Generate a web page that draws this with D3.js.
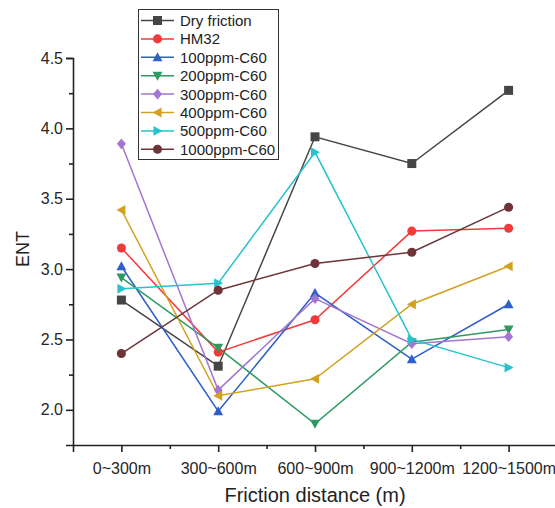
<!DOCTYPE html>
<html>
<head>
<meta charset="utf-8">
<script src="https://cdn.jsdelivr.net/npm/d3@7"></script>
<style>
  body { margin: 0; background: #fff; }
  text { font-family: "Liberation Sans", Arial, sans-serif; }
</style>
</head>
<body>
<script>
// categories and series
const categories = ["0~300m", "300~600m", "600~900m", "900~1200m", "1200~1500m"];
const seriesNames = ["Dry friction", "HM32", "100ppm-C60", "200ppm-C60", "300ppm-C60", "400ppm-C60", "500ppm-C60", "1000ppm-C60"];
const dryFriction = [2.78, 2.31, 3.94, 3.75, 4.27];
const hm32        = [3.15, 2.41, 2.64, 3.27, 3.29];
const ppm100      = [3.02, 1.99, 2.83, 2.36, 2.75];
const ppm200      = [2.94, 2.44, 1.90, 2.48, 2.57];
const ppm300      = [3.89, 2.14, 2.79, 2.47, 2.52];
const ppm400      = [3.42, 2.10, 2.22, 2.75, 3.02];
const ppm500      = [2.86, 2.90, 3.83, 2.50, 2.30];
const ppm1000     = [2.40, 2.85, 3.04, 3.12, 3.44];
const yTicks = [2.0, 2.5, 3.0, 3.5, 4.0, 4.5];

const seriesValues = [dryFriction, hm32, ppm100, ppm200, ppm300, ppm400, ppm500, ppm1000];
const colors = ["#454545", "#f23a3a", "#2f5fc9", "#2e9a62", "#a276d2", "#d1a21f", "#27c3cc", "#6e3438"];
const shapes = ["square", "circle", "up", "down", "diamond", "left", "right", "circle"];

const W = 555, H = 508;
const svg = d3.select("body").append("svg")
    .attr("width", W)
    .attr("height", H);

// scales
const x = d3.scaleLinear().domain([-0.5, 4.5]).range([73, 557]);
const y = d3.scaleLinear().domain([1.75, 4.5]).range([445, 58]);

// marker path generator
function marker(shape, s) {
    const h = s / 2;
    switch (shape) {
        case "square": return `M${-h},${-h}H${h}V${h}H${-h}Z`;
        case "circle": return d3.symbol(d3.symbolCircle, s * s * 0.8)();
        case "up": return `M0,${-h * 1.1}L${h * 1.1},${h * 0.9}L${-h * 1.1},${h * 0.9}Z`;
        case "down": return `M0,${h * 1.1}L${h * 1.1},${-h * 0.9}L${-h * 1.1},${-h * 0.9}Z`;
        case "left": return `M${-h * 1.1},0L${h * 0.9},${-h * 1.1}L${h * 0.9},${h * 1.1}Z`;
        case "right": return `M${h * 1.1},0L${-h * 0.9},${-h * 1.1}L${-h * 0.9},${h * 1.1}Z`;
        case "diamond": return `M0,${-h * 1.2}L${h},0L0,${h * 1.2}L${-h},0Z`;
    }
}

// axes
const yAxis = svg.append("g")
    .attr("transform", "translate(73,0)")
    .call(d3.axisLeft(y).tickValues(yTicks).tickFormat(d3.format(".1f")).tickSize(7).tickPadding(3));
const yMinor = svg.append("g")
    .attr("transform", "translate(73,0)")
    .call(d3.axisLeft(y).tickValues([2.25, 2.75, 3.25, 3.75, 4.25]).tickFormat("").tickSize(4));
yMinor.select(".domain").remove();

const xAxis = svg.append("g")
    .attr("transform", "translate(0,445)")
    .call(d3.axisBottom(x).tickValues(d3.range(categories.length))
        .tickFormat(i => categories[i]).tickSize(7).tickPadding(11));
const xMinor = svg.append("g")
    .attr("transform", "translate(0,445)")
    .call(d3.axisBottom(x).tickValues([0.5, 1.5, 2.5, 3.5]).tickFormat("").tickSize(4));
xMinor.select(".domain").remove();

svg.selectAll(".domain").attr("stroke", "#222").attr("stroke-width", 1.6);
svg.selectAll(".tick line").attr("stroke", "#222").attr("stroke-width", 1.6);
svg.selectAll(".tick text").attr("font-size", 16).attr("fill", "#262626")
    .attr("font-family", "'Liberation Sans', Arial, sans-serif");

// axis titles
svg.append("text")
    .attr("transform", "translate(29,249) rotate(-90)")
    .attr("text-anchor", "middle")
    .attr("font-size", 18)
    .attr("fill", "#222")
    .text("ENT");
svg.append("text")
    .attr("x", 315).attr("y", 502)
    .attr("text-anchor", "middle")
    .attr("font-size", 20)
    .attr("fill", "#222")
    .text("Friction distance (m)");

// lines and markers
const line = d3.line().x((d, i) => x(i)).y(d => y(d));
seriesValues.forEach(function (vals, k) {
    svg.append("path")
        .datum(vals)
        .attr("d", line)
        .attr("fill", "none")
        .attr("stroke", colors[k])
        .attr("stroke-width", 1.5);
});
seriesValues.forEach(function (vals, k) {
    svg.selectAll(".m" + k)
        .data(vals)
        .enter().append("path")
        .attr("transform", (d, i) => "translate(" + x(i) + "," + y(d) + ")")
        .attr("d", marker(shapes[k], 9))
        .attr("fill", colors[k]);
});

// legend
const legend = svg.append("g");
legend.append("rect")
    .attr("x", 138.5).attr("y", 9.5)
    .attr("width", 140).attr("height", 150)
    .attr("fill", "#fff")
    .attr("stroke", "#333")
    .attr("stroke-width", 1);
seriesNames.forEach(function (name, k) {
    const ly = 20.5 + k * 18.4;
    legend.append("line")
        .attr("x1", 141).attr("x2", 174)
        .attr("y1", ly).attr("y2", ly)
        .attr("stroke", colors[k]).attr("stroke-width", 1.5);
    legend.append("path")
        .attr("transform", "translate(157.5," + ly + ")")
        .attr("d", marker(shapes[k], 9))
        .attr("fill", colors[k]);
    legend.append("text")
        .attr("x", 180).attr("y", ly + 5.5)
        .attr("font-size", 15)
        .attr("fill", "#222")
        .text(name);
});
</script>
</body>
</html>
